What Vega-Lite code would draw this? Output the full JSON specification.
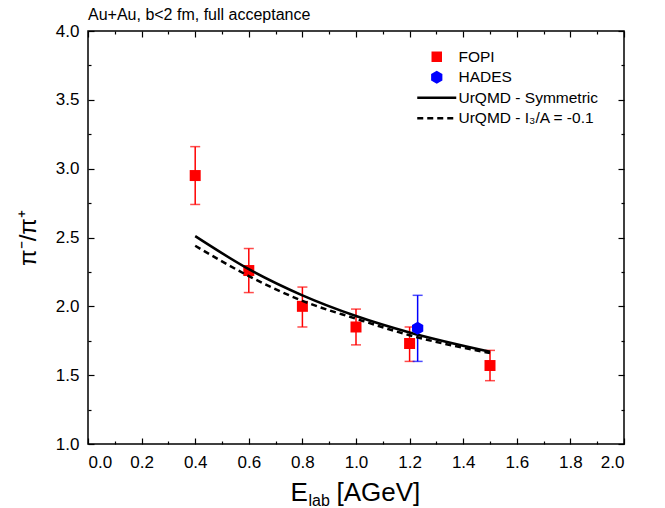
{
  "$schema": "https://vega.github.io/schema/vega-lite/v6.json",
  "width": 536,
  "height": 413,
  "autosize": {"type": "none"},
  "padding": {"left": 88, "top": 31, "right": 41, "bottom": 64},
  "background": "white",
  "title": {"text": "Au+Au, b<2 fm, full acceptance", "anchor": "start", "frame": "group", "font": "Liberation Sans", "fontSize": 16, "fontWeight": "normal", "color": "black", "baseline": "alphabetic", "offset": 0, "dy": 14},
  "datasets": {
    "fopi": [
      {"E": 0.4, "r": 2.95, "lo": 2.74, "hi": 3.16, "series": "FOPI"},
      {"E": 0.6, "r": 2.26, "lo": 2.10, "hi": 2.42, "series": "FOPI"},
      {"E": 0.8, "r": 2.00, "lo": 1.85, "hi": 2.14, "series": "FOPI"},
      {"E": 1.0, "r": 1.85, "lo": 1.72, "hi": 1.98, "series": "FOPI"},
      {"E": 1.2, "r": 1.73, "lo": 1.60, "hi": 1.85, "series": "FOPI"},
      {"E": 1.5, "r": 1.57, "lo": 1.46, "hi": 1.68, "series": "FOPI"}
    ],
    "hades": [
      {"E": 1.23, "r": 1.84, "lo": 1.60, "hi": 2.08, "series": "HADES"}
    ],
    "sym": [
      {"E": 0.4, "r": 2.51, "series": "UrQMD - Symmetric"},
      {"E": 0.6, "r": 2.27, "series": "UrQMD - Symmetric"},
      {"E": 0.8, "r": 2.08, "series": "UrQMD - Symmetric"},
      {"E": 1.0, "r": 1.93, "series": "UrQMD - Symmetric"},
      {"E": 1.2, "r": 1.81, "series": "UrQMD - Symmetric"},
      {"E": 1.5, "r": 1.67, "series": "UrQMD - Symmetric"}
    ],
    "iso": [
      {"E": 0.4, "r": 2.44, "series": "UrQMD - I₃/A = -0.1"},
      {"E": 0.6, "r": 2.22, "series": "UrQMD - I₃/A = -0.1"},
      {"E": 0.8, "r": 2.04, "series": "UrQMD - I₃/A = -0.1"},
      {"E": 1.0, "r": 1.91, "series": "UrQMD - I₃/A = -0.1"},
      {"E": 1.2, "r": 1.79, "series": "UrQMD - I₃/A = -0.1"},
      {"E": 1.5, "r": 1.66, "series": "UrQMD - I₃/A = -0.1"}
    ]
  },
  "layer": [
    {
      "data": {"name": "fopi"},
      "mark": {"type": "rule", "color": "#ff0000", "strokeWidth": 1.5},
      "encoding": {
        "x": {"field": "E", "type": "quantitative", "scale": {"domain": [0, 2], "nice": false},
              "axis": {"orient": "bottom", "values": [0, 0.2, 0.4, 0.6, 0.8, 1.0, 1.2, 1.4, 1.6, 1.8, 2.0], "format": ".1f", "tickSize": -6, "labelPadding": 16, "title": "E", "titleFontSize": 26, "titleAlign": "left", "titleAnchor": null, "titleX": 202, "titleY": 56, "titleBaseline": "alphabetic"}},
        "y": {"field": "lo", "type": "quantitative", "scale": {"domain": [1, 4], "nice": false},
              "axis": {"orient": "left", "values": [1, 1.5, 2, 2.5, 3, 3.5, 4], "format": ".1f", "tickSize": -6, "labelPadding": 15, "title": "π⁻/π⁺", "titleFontSize": 24, "titlePadding": 15}},
        "y2": {"field": "hi"}
      }
    },
    {
      "data": {"name": "fopi"},
      "mark": {"type": "tick", "orient": "horizontal", "color": "#ff0000", "size": 10, "thickness": 1.5},
      "encoding": {
        "x": {"field": "E", "type": "quantitative", "scale": {"domain": [0, 2], "nice": false},
              "axis": {"orient": "bottom", "values": [0.1, 0.3, 0.5, 0.7, 0.9, 1.1, 1.3, 1.5, 1.7, 1.9], "tickSize": -3, "labels": false, "title": null}},
        "y": {"field": "hi", "type": "quantitative", "scale": {"domain": [1, 4], "nice": false},
              "axis": {"orient": "left", "values": [1.25, 1.75, 2.25, 2.75, 3.25, 3.75], "tickSize": -3, "labels": false, "title": null}}
      }
    },
    {
      "data": {"name": "fopi"},
      "mark": {"type": "tick", "orient": "horizontal", "color": "#ff0000", "size": 10, "thickness": 1.5},
      "encoding": {
        "x": {"field": "E", "type": "quantitative", "scale": {"domain": [0, 2], "nice": false},
              "axis": {"orient": "top", "values": [0, 0.2, 0.4, 0.6, 0.8, 1.0, 1.2, 1.4, 1.6, 1.8, 2.0], "tickSize": -6, "labels": false, "title": null}},
        "y": {"field": "lo", "type": "quantitative", "scale": {"domain": [1, 4], "nice": false},
              "axis": {"orient": "right", "values": [1, 1.5, 2, 2.5, 3, 3.5, 4], "tickSize": -6, "labels": false, "title": null}}
      }
    },
    {
      "data": {"name": "hades"},
      "mark": {"type": "rule", "color": "#0000ff", "strokeWidth": 1.5},
      "encoding": {
        "x": {"field": "E", "type": "quantitative", "scale": {"domain": [0, 2], "nice": false},
              "axis": {"orient": "top", "values": [0.1, 0.3, 0.5, 0.7, 0.9, 1.1, 1.3, 1.5, 1.7, 1.9], "tickSize": -3, "labels": false, "title": null}},
        "y": {"field": "lo", "type": "quantitative", "scale": {"domain": [1, 4], "nice": false},
              "axis": {"orient": "right", "values": [1.25, 1.75, 2.25, 2.75, 3.25, 3.75], "tickSize": -3, "labels": false, "title": null}},
        "y2": {"field": "hi"}
      }
    },
    {
      "data": {"name": "hades"},
      "mark": {"type": "tick", "orient": "horizontal", "color": "#0000ff", "size": 10, "thickness": 1.5},
      "encoding": {
        "x": {"field": "E", "type": "quantitative", "scale": {"domain": [0, 2], "nice": false},
              "axis": {"orient": "bottom", "values": [], "ticks": false, "labels": false, "title": "lab", "titleFontSize": 16, "titleAlign": "left", "titleAnchor": null, "titleX": 220, "titleY": 61, "titleBaseline": "alphabetic"}},
        "y": {"field": "hi", "type": "quantitative", "scale": {"domain": [1, 4], "nice": false}, "axis": null}
      }
    },
    {
      "data": {"name": "hades"},
      "mark": {"type": "tick", "orient": "horizontal", "color": "#0000ff", "size": 10, "thickness": 1.5},
      "encoding": {
        "x": {"field": "E", "type": "quantitative", "scale": {"domain": [0, 2], "nice": false},
              "axis": {"orient": "bottom", "values": [], "ticks": false, "labels": false, "title": "[AGeV]", "titleFontSize": 26, "titleAlign": "left", "titleAnchor": null, "titleX": 248, "titleY": 56, "titleBaseline": "alphabetic"}},
        "y": {"field": "lo", "type": "quantitative", "scale": {"domain": [1, 4], "nice": false}, "axis": null}
      }
    },
    {
      "data": {"name": "fopi"},
      "mark": {"type": "point", "shape": "square", "filled": true, "size": 121, "opacity": 1},
      "encoding": {
        "x": {"field": "E", "type": "quantitative", "scale": {"domain": [0, 2], "nice": false}, "axis": null},
        "y": {"field": "r", "type": "quantitative", "scale": {"domain": [1, 4], "nice": false}, "axis": null},
        "color": {"field": "series", "type": "nominal",
                  "scale": {"domain": ["FOPI", "HADES", "UrQMD - Symmetric", "UrQMD - I₃/A = -0.1"], "range": ["#ff0000", "#0000ff", "#000000", "#000000"]},
                  "legend": {
                    "orient": "none", "legendX": 341, "legendY": 18, "title": null, "padding": 0,
                    "labelFont": "Liberation Sans", "labelFontSize": 15.5, "labelColor": "black",
                    "labelOffset": 14, "rowPadding": 3.5,
                    "symbolType": {"expr": "datum.value=='FOPI' ? 'square' : datum.value=='HADES' ? 'M0,-1L0.866,-0.5L0.866,0.5L0,1L-0.866,0.5L-0.866,-0.5Z' : 'stroke'"},
                    "symbolSize": {"expr": "datum.value=='FOPI' ? 110 : datum.value=='HADES' ? 169 : 1521"},
                    "symbolStrokeWidth": {"expr": "(datum.value=='FOPI' || datum.value=='HADES') ? 0 : 2.5"},
                    "symbolStrokeColor": {"expr": "datum.value=='FOPI' ? '#ff0000' : datum.value=='HADES' ? '#0000ff' : '#000000'"},
                    "symbolDash": {"expr": "datum.value=='UrQMD - I₃/A = -0.1' ? [6,4] : [1,0]"},
                    "symbolOpacity": 1
                  }}
      }
    },
    {
      "data": {"name": "sym"},
      "mark": {"type": "line", "interpolate": "monotone", "strokeWidth": 2.5},
      "encoding": {
        "x": {"field": "E", "type": "quantitative", "scale": {"domain": [0, 2], "nice": false}, "axis": null},
        "y": {"field": "r", "type": "quantitative", "scale": {"domain": [1, 4], "nice": false}, "axis": null},
        "color": {"field": "series", "type": "nominal"}
      }
    },
    {
      "data": {"name": "iso"},
      "mark": {"type": "line", "interpolate": "monotone", "strokeWidth": 2.5, "strokeDash": [6, 4]},
      "encoding": {
        "x": {"field": "E", "type": "quantitative", "scale": {"domain": [0, 2], "nice": false}, "axis": null},
        "y": {"field": "r", "type": "quantitative", "scale": {"domain": [1, 4], "nice": false}, "axis": null},
        "color": {"field": "series", "type": "nominal"}
      }
    },
    {
      "data": {"name": "hades"},
      "mark": {"type": "point", "shape": "M0,-1L0.866,-0.5L0.866,0.5L0,1L-0.866,0.5L-0.866,-0.5Z", "filled": true, "size": 169, "opacity": 1},
      "encoding": {
        "x": {"field": "E", "type": "quantitative", "scale": {"domain": [0, 2], "nice": false}, "axis": null},
        "y": {"field": "r", "type": "quantitative", "scale": {"domain": [1, 4], "nice": false}, "axis": null},
        "color": {"field": "series", "type": "nominal"}
      }
    }
  ],
  "resolve": {"axis": {"x": "independent", "y": "independent"}},
  "config": {
    "font": "Liberation Sans",
    "axis": {"domain": false, "grid": false, "labelFont": "Liberation Sans", "labelFontSize": 17, "labelColor": "black", "tickColor": "black", "tickWidth": 1.2, "titleFont": "Liberation Sans", "titleColor": "black", "titleFontWeight": "normal"},
    "view": {"stroke": "black", "strokeWidth": 1.5}
  }
}
